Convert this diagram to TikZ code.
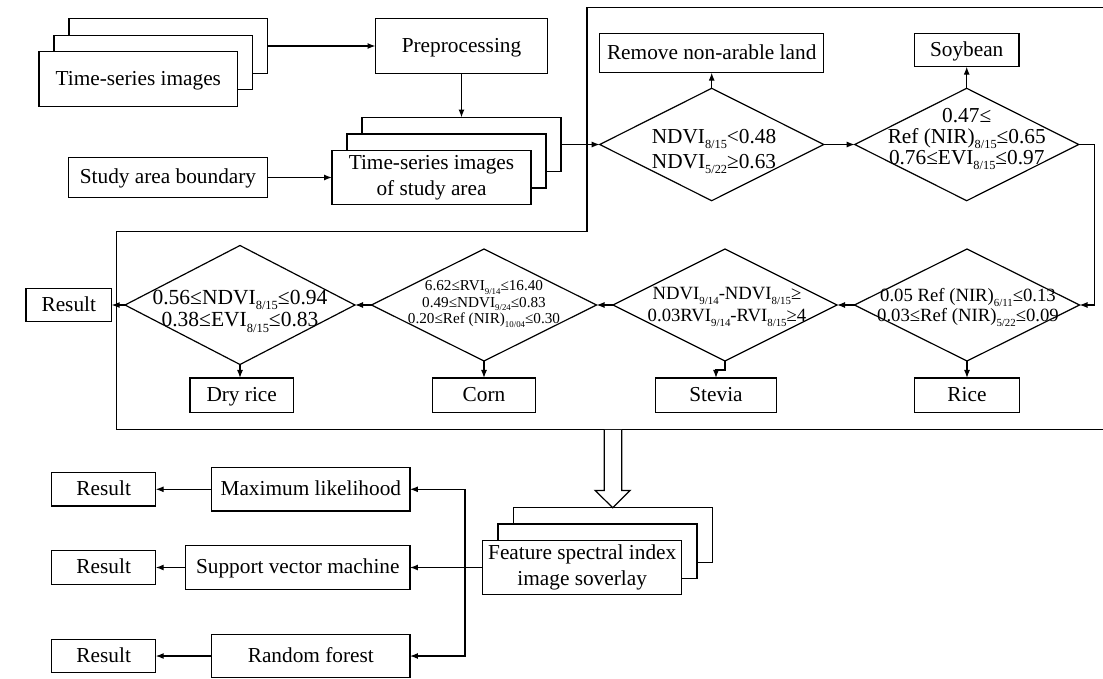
\documentclass[tikz,border=0pt]{standalone}
\usepackage{fontspec}
\setmainfont{Liberation Serif}
\usetikzlibrary{shapes.geometric,arrows.meta,calc}
% small lowered index (dates in the band names)
\newcommand\lo[1]{\raisebox{-0.25em}{\scalebox{0.58}{#1}}}
\newcommand\fs[2]{\fontsize{#1}{#2}\selectfont}

\begin{document}
\begin{tikzpicture}[x=1pt,y=-1pt,
  ln/.style={line width=1.2pt},
  arr/.style={line width=1.2pt,-{Latex[length=8pt,width=6pt]}},
  box/.style 2 args={draw,line width=1.2pt,fill=white,inner sep=0pt,outer sep=0pt,
    minimum width=#1,minimum height=#2,align=center,font=\fs{21.3}{26}},
  one/.style={text height=14pt,text depth=2pt},
  dia/.style 2 args={draw,shape=diamond,line width=1.2pt,inner sep=0pt,outer sep=0pt,
    minimum width=#1,minimum height=#2},
  dtxt/.style={inner sep=0pt,align=center}]
\useasboundingbox (0,0) rectangle (1103,678);

% ---------- input stage ----------
\node[box={198.7}{54.3}] (tsC) at (168.3,46) {};
\node[box={198.7}{54.3}] (tsB) at (153.3,62.5) {};
\node[box={198.7}{54.3},one] (tsA) at (138.3,79) {Time-series images};

\node[box={172}{54.3},one] (prep) at (461.5,46) {Preprocessing};

\node[box={198.3}{40},one] (bnd) at (168,177.5) {Study area boundary};

\node[box={199}{54}] (saC) at (461.5,144.5) {};
\node[box={199}{54}] (saB) at (446.5,161) {};
\node[box={199}{54}] (saA) at (431.5,177.5) {Time-series images\\of study area};

\draw[arr] (tsC.east) -- (prep.west);
\draw[arr] (prep.south) -- (saC.north);
\draw[arr] (bnd.east) -- (saA.west);

% ---------- decision frame ----------
\draw[ln] (1103,7.3) -- (587,7.3) -- (587,231.5) -- (116.7,231.5)
  -- (116.7,429.3) -- (1103,429.3);

% first row
\node[box={224}{39.3},one] (rm) at (711.7,53) {Remove non-arable land};
\node[box={104.7}{33.3},one] (soy) at (966.7,50) {Soybean};

\node[dia={224}{112.4}] (d1) at (711.7,144.5) {};
\node[dtxt,font=\fs{21.3}{25}] (t1) at (714,151.5)
  {NDVI\lo{8/15}<0.48\\NDVI\lo{5/22}≥0.63};

\node[dia={224}{112.4}] (d2) at (966.7,144.5) {};
\node[dtxt,font=\fs{21.3}{21}] (t2) at (966.7,139)
  {0.47≤\\Ref (NIR)\lo{8/15}≤0.65\\0.76≤EVI\lo{8/15}≤0.97};

% second row
\node[dia={225}{112}] (dRi) at (967,305) {};
\node[dtxt,font=\fs{18.7}{19.5}] (t3) at (968,307.5)
  {0.05 Ref (NIR)\lo{6/11}≤0.13\\0.03≤Ref (NIR)\lo{5/22}≤0.09};

\node[dia={224}{112}] (dSt) at (725,305) {};
\node[dtxt,font=\fs{18.7}{22}] (t4) at (727,307)
  {NDVI\lo{9/14}-NDVI\lo{8/15}≥\\0.03RVI\lo{9/14}-RVI\lo{8/15}≥4};

\node[dia={225}{112}] (dCo) at (484,305) {};
\node[dtxt,font=\fs{15.2}{16.8}] (t5) at (484,304)
  {6.62≤RVI\lo{9/14}≤16.40\\0.49≤NDVI\lo{9/24}≤0.83\\0.20≤Ref (NIR)\lo{10/04}≤0.30};

\node[dia={230}{119}] (dDr) at (240,305) {};
\node[dtxt,font=\fs{21.5}{22.5}] (t6) at (240,311)
  {0.56≤NDVI\lo{8/15}≤0.94\\0.38≤EVI\lo{8/15}≤0.83};

\node[box={85.7}{33.4},one] (res0) at (68.8,305) {Result};

% third row
\node[box={103.3}{34.7},one] (dry) at (241.7,395.3) {Dry rice};
\node[box={103.4}{34.7},one] (corn) at (484,395.3) {Corn};
\node[box={120.6}{34.7},one] (stev) at (716,395.3) {Stevia};
\node[box={104.7}{34.7},one] (rice) at (967,395.3) {Rice};

\draw[arr] (saC.east) -- (d1.west);
\draw[arr] (d1.north) -- (rm.south);
\draw[arr] (d1.east) -- (d2.west);
\draw[arr] (d2.north) -- (soy.south);
\draw[arr] (d2.east) -- ++(16,0) |- (dRi.east);
\draw[arr] (dRi.south) -- (rice.north);
\draw[arr] (dRi.west) -- (dSt.east);
\draw[arr] (dSt.south) -- ++(0,9) -| (stev.north);
\draw[arr] (dSt.west) -- (dCo.east);
\draw[arr] (dCo.south) -- (corn.north);
\draw[arr] (dCo.west) -- (dDr.east);
\draw[arr] (dDr.south) -- (dDr.south |- dry.north);
\draw[arr] (dDr.west) -- (res0.east);

% ---------- classifier comparison ----------
\node[box={199}{54.5}] (fsC) at (612.8,535) {};
\node[box={199}{54.5}] (fsB) at (597.5,551.2) {};
\node[box={199}{54.5}] (fsA) at (582.2,567.5) {Feature spectral index\\image soverlay};

% hollow arrow from the frame down to the stack
\coordinate (tip) at (fsC.north);
\draw[ln,fill=white] ($(tip)+(-8.5,-78)$) -- ($(tip)+(-8.5,-17.3)$) -- ($(tip)+(-17.7,-17.3)$)
  -- (tip) -- ($(tip)+(17.3,-17.3)$) -- ($(tip)+(9,-17.3)$) -- ($(tip)+(9,-78)$);

\node[box={198.3}{43.3},one] (ml) at (310.8,489.3) {Maximum likelihood};
\node[box={224.3}{43.3},one] (svm) at (297.8,567.5) {Support vector machine};
\node[box={198.3}{43.3},one] (rf) at (310.8,656) {Random forest};

\node[box={104}{33.3},one] (r1) at (103.7,489.3) {Result};
\node[box={104}{33.3},one] (r2) at (103.7,567.5) {Result};
\node[box={104}{33.3},one] (r3) at (103.7,656) {Result};

\coordinate (j) at (465,567.5);
\draw[arr] (fsA.west) -- (svm.east);
\draw[arr] (j) |- (ml.east);
\draw[arr] (j) |- (rf.east);
\draw[arr] (ml.west) -- (r1.east);
\draw[arr] (svm.west) -- (r2.east);
\draw[arr] (rf.west) -- (r3.east);
\end{tikzpicture}
\end{document}
